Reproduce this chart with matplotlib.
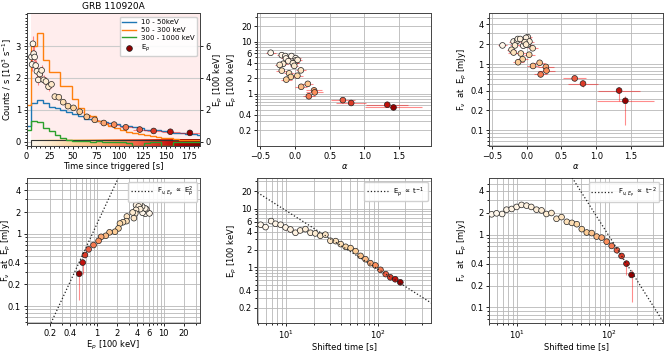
import numpy as np
import matplotlib.pyplot as plt
from matplotlib import colors, ticker
from matplotlib.patches import Rectangle

plt.rcParams['font.family'] = ['DejaVu Sans']
plt.rcParams['font.size'] = 6
plt.rcParams['axes.linewidth'] = 0.7
plt.rcParams['xtick.major.width'] = 0.6
plt.rcParams['ytick.major.width'] = 0.6
plt.rcParams['xtick.major.size'] = 2.5
plt.rcParams['ytick.major.size'] = 2.5
plt.rcParams['xtick.minor.size'] = 1.5
plt.rcParams['ytick.minor.size'] = 1.5

# ===== light curve (GRB 110920A) =====
lc_edges = [-1.8, 4.6, 11.0, 17.4, 23.8, 30.2, 36.6, 43.0, 49.4, 55.8, 62.2,
            68.6, 75.0, 81.4, 87.8, 94.2, 100.6, 107.0, 113.4, 119.8, 126.2,
            132.6, 139.0, 145.4, 151.8, 158.2, 164.6, 171.0, 177.4, 183.8, 190.2]
lc_10_50 = [0.50, 1.20, 1.32, 1.20, 1.10, 1.05, 1.00, 0.92, 0.88, 0.80, 0.72,
            0.70, 0.65, 0.62, 0.58, 0.55, 0.50, 0.48, 0.45, 0.42, 0.38,
            0.36, 0.35, 0.32, 0.30, 0.28, 0.28, 0.25, 0.25, 0.22]
lc_50_300 = [1.16, 3.00, 3.42, 2.55, 2.20, 2.20, 1.75, 1.75, 1.35, 1.05, 0.85,
             0.80, 0.65, 0.55, 0.48, 0.42, 0.35, 0.30, 0.28, 0.24, 0.20,
             0.18, 0.14, 0.12, 0.10, 0.08, 0.06, 0.05, 0.05, 0.04]
lc_300_1000 = [0.38, 0.65, 0.62, 0.42, 0.32, 0.20, 0.12, 0.06, 0.03, 0.02, 0.01,
               0.00, 0.01, -0.02, -0.01, 0.00, -0.02, -0.03, -0.13, -0.13, -0.03,
               -0.02, -0.01, -0.13, -0.13, -0.02, -0.01, -0.02, -0.01, -0.02]

# ===== time-resolved spectral fits =====
t_start, t_end = 4.6, 187.0
t_fit = [5.3, 6.0, 6.9, 7.7, 8.75, 9.9, 11.2, 12.7, 14.3, 16.3, 18.5, 20.9, 23.7,
         26.9, 30.5, 34.8, 39.5, 44.7, 50.6, 57.3, 64.9, 73.5, 83.3, 94.4, 107,
         122, 137, 155, 176]
ep = [5.32, 4.85, 6.15, 5.53, 5.32, 4.78, 4.42, 3.88, 4.25, 4.48, 3.88, 3.78, 3.45,
      3.60, 2.83, 2.79, 2.48, 2.23, 2.12, 1.88, 1.56, 1.37, 1.17, 1.07, 0.90,
      0.76, 0.67, 0.62, 0.55]
ep_err = [0.45, 0.40, 0.50, 0.45, 0.40, 0.38, 0.35, 0.30, 0.32, 0.33, 0.28, 0.26, 0.24,
          0.22, 0.18, 0.17, 0.14, 0.12, 0.11, 0.09, 0.07, 0.06, 0.05, 0.05, 0.04,
          0.04, 0.04, 0.04, 0.04]
flux = [1.90, 1.96, 1.92, 2.20, 2.25, 2.40, 2.56, 2.50, 2.40, 2.20, 2.15, 1.92, 1.98,
        1.65, 1.74, 1.50, 1.45, 1.39, 1.19, 1.07, 1.05, 0.94, 0.91, 0.80, 0.70,
        0.61, 0.51, 0.40, 0.28]
flux_err_lo = [0.06, 0.06, 0.06, 0.07, 0.07, 0.07, 0.07, 0.07, 0.07, 0.06, 0.06, 0.06, 0.06,
               0.05, 0.05, 0.05, 0.05, 0.04, 0.04, 0.04, 0.04, 0.04, 0.04, 0.04, 0.04,
               0.05, 0.05, 0.12, 0.16]
flux_err_hi = [0.06, 0.06, 0.06, 0.07, 0.07, 0.07, 0.07, 0.07, 0.07, 0.06, 0.06, 0.06, 0.06,
               0.05, 0.05, 0.05, 0.05, 0.04, 0.04, 0.04, 0.04, 0.04, 0.04, 0.04, 0.04,
               0.05, 0.05, 0.05, 0.05]
alpha = [-0.05, 0.01, -0.35, -0.19, -0.14, -0.13, 0.015, -0.01, -0.095, 0.038, -0.03,
         -0.17, -0.01, -0.22, 0.085, -0.19, -0.085, 0.035, -0.06, -0.125, 0.185, 0.09,
         0.275, 0.284, 0.20, 0.69, 0.81, 1.33, 1.42]
alpha_err = [0.06, 0.07, 0.07, 0.07, 0.06, 0.07, 0.06, 0.07, 0.07, 0.06, 0.07, 0.07,
             0.06, 0.07, 0.07, 0.08, 0.07, 0.08, 0.08, 0.08, 0.08, 0.09, 0.12, 0.12,
             0.09, 0.17, 0.22, 0.30, 0.41]

# power-law guide normalisations
norm_f_ep2 = 1.34     # F = norm * Ep^2
norm_ep_t = 93.0      # Ep = norm / t
norm_f_t2 = 9580.0    # F = norm / t^2

t_fit = np.array(t_fit)
ep = np.array(ep)
flux = np.array(flux)
alpha = np.array(alpha)
mid = (t_fit[1:] + t_fit[:-1]) / 2
t_edges = np.concatenate([[t_start], mid, [t_end]])
t_xerr = [t_fit - t_edges[:-1], t_edges[1:] - t_fit]

cmap = plt.get_cmap('OrRd')
norm = colors.Normalize(t_start, t_end)
ERR = dict(fmt='none', ecolor='red', alpha=0.45, elinewidth=0.8, capsize=0, zorder=2)
PTS = dict(c=t_fit, cmap=cmap, norm=norm, s=17, edgecolors='#222222', linewidths=0.5, zorder=3)
GRID = dict(color='#b8b8b8', lw=0.6)
LEG = dict(loc='upper right', fontsize=5, handlelength=3, framealpha=0.9,
           borderpad=0.4, labelspacing=0.3)

fig = plt.figure(figsize=(6.7, 3.52), dpi=100)
cols = [0.0396, 0.3843, 0.7303]
w = 0.259
top_b, top_h = 0.585, 0.377
bot_b, bot_h = 0.082, 0.411


def log_ticks(axis, ticks):
    axis.set_major_locator(ticker.FixedLocator(ticks))
    axis.set_major_formatter(ticker.FormatStrFormatter('%g'))
    axis.set_minor_formatter(ticker.NullFormatter())


# ===== panel 1: light curve + Ep =====
ax1 = fig.add_axes([cols[0], top_b, w, top_h])
ax1.axvspan(t_start, 200, color='red', alpha=0.07, lw=0, zorder=0)
ax1.stairs(lc_10_50, lc_edges, color='tab:blue', lw=1.0, label='10 - 50keV', zorder=3)
ax1.stairs(lc_50_300, lc_edges, color='tab:orange', lw=1.0, label='50 - 300 keV', zorder=3)
ax1.stairs(lc_300_1000, lc_edges, color='tab:green', lw=1.0, label='300 - 1000 keV', zorder=4)
grad = np.linspace(0, 1, 256)[None, :]
ax1.imshow(grad, extent=[t_start, t_end, -0.13, 0.06], aspect='auto', cmap=cmap, zorder=2)
ax1.add_patch(Rectangle((t_start, -0.13), t_end - t_start, 0.19, fill=False,
                        ec='#333333', lw=0.8, zorder=2))
ax1.set_xlim(0, t_end)
ax1.set_ylim(-0.14, 4.03)
ax1.set_yticks([0, 1, 2, 3])
ax1.yaxis.set_minor_locator(ticker.MultipleLocator(0.1))
ax1.set_xticks([0, 25, 50, 75, 100, 125, 150, 175])
ax1.xaxis.set_minor_locator(ticker.MultipleLocator(5))
ax1.grid(axis='y', color='#cccccc', lw=0.8, zorder=1)
ax1.set_axisbelow(True)
ax1.set_xlabel('Time since triggered [s]', labelpad=1)
ax1.set_ylabel('Counts / s [10$^3$ s$^{-1}$]')
ax1.yaxis.set_label_coords(-0.072, 0.5)
ax1.set_title('GRB 110920A', fontsize=6.5, pad=3)

ax1b = ax1.twinx()
ax1b.errorbar(t_fit, ep, xerr=t_xerr, yerr=ep_err, **ERR)
ax1b.scatter(t_fit, ep, **PTS)
ax1b.scatter([], [], color='#8b0000', edgecolors='#222222', linewidths=0.5, s=17, label='E$_p$')
ax1b.set_ylim(-0.28, 8.06)
ax1b.set_yticks([0, 2, 4, 6])
ax1b.set_ylabel('E$_p$ [100 keV]')
ax1b.yaxis.set_label_coords(1.068, 0.5)
h1, l1 = ax1.get_legend_handles_labels()
h2, l2 = ax1b.get_legend_handles_labels()
ax1b.legend(h1 + h2, l1 + l2, loc='upper right', fontsize=5, framealpha=0.9,
            handlelength=2.0, borderpad=0.35, labelspacing=0.25, handletextpad=0.6)

# ===== panel 2: Ep vs alpha =====
ax2 = fig.add_axes([cols[1], top_b, w, top_h])
ax2.errorbar(alpha, ep, xerr=alpha_err, yerr=ep_err, **ERR)
ax2.scatter(alpha, ep, **PTS)
ax2.set_yscale('log')
ax2.set_ylim(0.1, 35)
ax2.set_xlim(-0.54, 1.96)
log_ticks(ax2.yaxis, [0.2, 0.4, 1, 2, 4, 6, 10, 20])
ax2.xaxis.set_major_locator(ticker.MultipleLocator(0.5))
ax2.grid(which='both', **GRID)
ax2.set_axisbelow(True)
ax2.set_xlabel(r'$\alpha$', labelpad=1)
ax2.set_ylabel('E$_p$ [100 keV]')
ax2.yaxis.set_label_coords(-0.104, 0.5)

# ===== panel 3: F vs alpha =====
ax3 = fig.add_axes([cols[2], top_b, w, top_h])
ax3.errorbar(alpha, flux, xerr=alpha_err, yerr=[flux_err_lo, flux_err_hi], **ERR)
ax3.scatter(alpha, flux, **PTS)
ax3.set_yscale('log')
ax3.set_ylim(0.058, 5.85)
ax3.set_xlim(-0.54, 1.96)
log_ticks(ax3.yaxis, [0.1, 0.2, 0.4, 1, 2, 4])
ax3.xaxis.set_major_locator(ticker.MultipleLocator(0.5))
ax3.grid(which='both', **GRID)
ax3.set_axisbelow(True)
ax3.set_xlabel(r'$\alpha$', labelpad=1)
ax3.set_ylabel(r'F$_\nu$  at  E$_p$ [mJy]')
ax3.yaxis.set_label_coords(-0.115, 0.5)

# ===== panel 4: F vs Ep =====
ax4 = fig.add_axes([cols[0], bot_b, w, bot_h])
ax4.errorbar(ep, flux, xerr=ep_err, yerr=[flux_err_lo, flux_err_hi], **ERR)
ax4.scatter(ep, flux, **PTS)
xl = np.logspace(-1.1, 1.6, 50)
ax4.plot(xl, norm_f_ep2 * xl ** 2, ls=':', color='#222222', lw=0.9,
         label=r'F$_{\nu,E_p}$ $\propto$ E$_p^2$', zorder=4)
ax4.set_xscale('log')
ax4.set_yscale('log')
ax4.set_xlim(0.09, 35)
ax4.set_ylim(0.058, 5.85)
log_ticks(ax4.xaxis, [0.2, 0.4, 1, 2, 4, 6, 10, 20])
log_ticks(ax4.yaxis, [0.1, 0.2, 0.4, 1, 2, 4])
ax4.grid(which='both', **GRID)
ax4.set_axisbelow(True)
ax4.set_xlabel('E$_p$ [100 keV]', labelpad=1)
ax4.set_ylabel(r'F$_\nu$  at  E$_p$ [mJy]')
ax4.yaxis.set_label_coords(-0.08, 0.5)
ax4.legend(**LEG)

# ===== panel 5: Ep vs shifted time =====
ax5 = fig.add_axes([cols[1], bot_b, w, bot_h])
ax5.errorbar(t_fit, ep, xerr=t_xerr, yerr=ep_err, **ERR)
ax5.scatter(t_fit, ep, **PTS)
tl = np.logspace(0.6, 2.7, 50)
ax5.plot(tl, norm_ep_t / tl, ls=':', color='#222222', lw=0.9,
         label=r'E$_p$ $\propto$ t$^{-1}$', zorder=4)
ax5.set_xscale('log')
ax5.set_yscale('log')
ax5.set_xlim(4.9, 380)
ax5.set_ylim(0.11, 33)
log_ticks(ax5.yaxis, [0.2, 0.4, 1, 2, 4, 6, 10, 20])
ax5.grid(which='both', **GRID)
ax5.set_axisbelow(True)
ax5.set_xlabel('Shifted time [s]', labelpad=1)
ax5.set_ylabel('E$_p$ [100 keV]')
ax5.yaxis.set_label_coords(-0.104, 0.5)
ax5.legend(**LEG)

# ===== panel 6: F vs shifted time =====
ax6 = fig.add_axes([cols[2], bot_b, w, bot_h])
ax6.errorbar(t_fit, flux, xerr=t_xerr, yerr=[flux_err_lo, flux_err_hi], **ERR)
ax6.scatter(t_fit, flux, **PTS)
ax6.plot(tl, norm_f_t2 / tl ** 2, ls=':', color='#222222', lw=0.9,
         label=r'F$_{\nu,E_p}$ $\propto$ t$^{-2}$', zorder=4)
ax6.set_xscale('log')
ax6.set_yscale('log')
ax6.set_xlim(5.0, 385)
ax6.set_ylim(0.061, 5.9)
log_ticks(ax6.yaxis, [0.1, 0.2, 0.4, 1, 2, 4])
ax6.grid(which='both', **GRID)
ax6.set_axisbelow(True)
ax6.set_xlabel('Shifted time [s]', labelpad=1)
ax6.set_ylabel(r'F$_\nu$  at  E$_p$ [mJy]')
ax6.yaxis.set_label_coords(-0.115, 0.5)
ax6.legend(**LEG)

for ax in [ax1, ax1b, ax2, ax3, ax4, ax5, ax6]:
    ax.tick_params(labelsize=6, pad=1.5)
    for s in ax.spines.values():
        s.set_color('#444444')

fig.savefig('out.png', dpi=100)
